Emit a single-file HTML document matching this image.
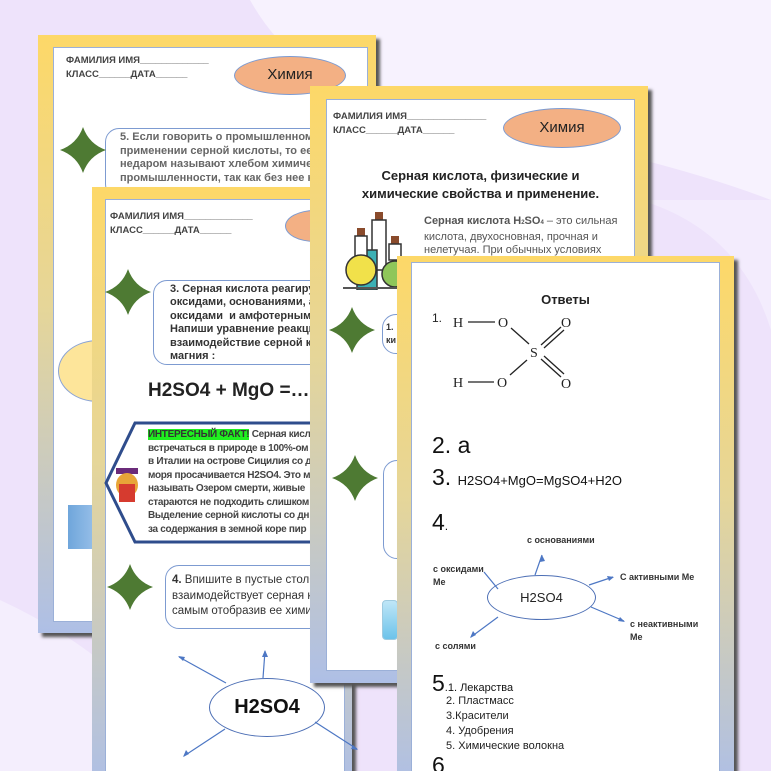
<!DOCTYPE html>
<html style="width:771px;height:771px;overflow:hidden"><head><meta charset="utf-8"><style>
*{margin:0;padding:0;box-sizing:border-box}
body{width:771px;height:771px;overflow:hidden;position:relative;background:#eee3fb;font-family:"Liberation Sans",sans-serif}
.abs{position:absolute}
.page{position:absolute;background:linear-gradient(#fdd868,#e6d698 45%,#aebfe6);box-shadow:4px 4px 3px #555}
.inner{position:absolute;background:#fff;border:1px solid #9bb0d8}
.t{position:absolute;white-space:nowrap;color:#444}
.hdr{font-size:9.5px;font-weight:bold;color:#444;line-height:14px}
.nar{font-family:"Liberation Sans Narrow","Liberation Sans",sans-serif}
.bub{position:absolute;background:#fff;border:1.5px solid #7d9bd1;border-radius:14px}
.ell{position:absolute;border-radius:50%;background:#f3b084;border:1.5px solid #7d9bd1;text-align:center;font-size:15px;color:#222}
</style></head><body>
<svg class="abs" style="left:0;top:0" width="771" height="771">
<path d="M250 0 Q300 90 420 115 Q640 150 771 200 V0 Z" fill="#f7f2fe"/>
<path d="M640 200 Q740 230 771 330 V200Z" fill="#f3ecfd"/>
<path d="M0 600 Q130 660 200 771 H0Z" fill="#f4eefd"/>
</svg>

<!-- Page A -->
<div class="page" style="left:38px;top:35px;width:338px;height:598px">
 <div class="inner" style="left:15px;top:12px;width:315px;height:575px"></div>
</div>
<div class="t hdr" style="left:66px;top:54px">ФАМИЛИЯ ИМЯ_____________<br>КЛАСС______ДАТА______</div>
<div class="ell" style="left:234px;top:56px;width:112px;height:39px;line-height:36px">Химия</div>
<div class="bub" style="left:105px;top:128px;width:260px;height:70px"></div>
<div class="t" style="left:120px;top:131px;font-size:11px;line-height:13.5px;color:#666;font-weight:bold">5. Если говорить о промышленном<br>применении серной кислоты, то ее<br>недаром называют хлебом химической<br>промышленности, так как без нее не</div>
<div class="abs" style="left:58px;top:340px;width:80px;height:62px;border-radius:50%;background:#fde59a;border:1px solid #8aa3d4"></div>
<div class="abs" style="left:68px;top:505px;width:30px;height:44px;background:linear-gradient(90deg,#6fa6db,#9cc2ea)"></div>

<!-- Page B -->
<div class="page" style="left:92px;top:187px;width:260px;height:600px">
 <div class="inner" style="left:13px;top:12px;width:240px;height:590px"></div>
</div>
<div class="t hdr" style="left:110px;top:210px">ФАМИЛИЯ ИМЯ_____________<br>КЛАСС______ДАТА______</div>
<div class="ell" style="left:285px;top:210px;width:60px;height:32px"></div>
<div class="bub" style="left:153px;top:280px;width:200px;height:85px"></div>
<div class="t" style="left:170px;top:283px;font-size:11px;line-height:13.4px;color:#333;font-weight:bold">3. Серная кислота реагирует с<br>оксидами, основаниями, амфотерными<br>оксидами &nbsp;и амфотерными<br>Напиши уравнение реакции<br>взаимодействие серной кислоты<br>магния :</div>
<div class="t" style="left:148px;top:380px;font-size:19px;font-weight:bold;color:#222">H2SO4 + MgO =…….</div>
<svg class="abs" style="left:104px;top:421px" width="220" height="125"><path d="M31 2 H215 V121 H31 L2 62 Z" fill="#fff" stroke="#2f4d8c" stroke-width="3"/></svg>
<div class="t" style="left:148px;top:428px;font-size:10px;line-height:13.5px;color:#444;font-weight:bold;letter-spacing:-0.3px"><span style="background:#1ff01f;color:#333">ИНТЕРЕСНЫЙ ФАКТ!</span> Серная кислота<br>встречаться в природе в 100%-ом<br>в Италии на острове Сицилия со д<br>моря просачивается H2SO4. Это м<br>называть Озером смерти, живые<br>стараются не подходить слишком<br>Выделение серной кислоты со дн<br>за содержания в земной коре пир</div>
<div class="abs" style="left:114px;top:468px;width:26px;height:36px">
 <div class="abs" style="left:2px;top:0;width:22px;height:6px;background:#6b2b7a"></div>
 <div class="abs" style="left:2px;top:5px;width:22px;height:24px;border-radius:50%;background:#e8a538"></div>
 <div class="abs" style="left:5px;top:16px;width:16px;height:18px;background:#d63b2f"></div>
</div>
<div class="bub" style="left:165px;top:565px;width:190px;height:64px"></div>
<div class="t" style="left:172px;top:573px;font-size:11.5px;line-height:15.5px;color:#333"><b>4.</b> Впишите в пустые столбцы<br>взаимодействует серная кислота<br>самым отобразив ее химические</div>
<div class="abs" style="left:209px;top:678px;width:116px;height:59px;border-radius:50%;border:1.5px solid #4d6fb5;background:#fff;text-align:center;line-height:56px;font-size:20px;font-weight:bold;color:#111">H2SO4</div>
<svg class="abs" style="left:0;top:0" width="400" height="771"><g stroke="#4d77c4" stroke-width="1.2" fill="#4d77c4">
<line x1="226" y1="683" x2="179" y2="657"/><line x1="263" y1="678" x2="265" y2="651"/><line x1="225" y1="729" x2="184" y2="756"/><line x1="315" y1="722" x2="357" y2="749"/>
<polygon points="178,656 185,657 183,661" stroke="none"/><polygon points="265,650 262,657 268,657" stroke="none"/><polygon points="183,757 186,750 189,754" stroke="none"/><polygon points="358,750 351,749 353,745" stroke="none"/></g></svg>

<!-- Page C -->
<div class="page" style="left:310px;top:86px;width:338px;height:597px">
 <div class="inner" style="left:16px;top:13px;width:309px;height:572px"></div>
</div>
<div class="t hdr" style="left:333px;top:110px">ФАМИЛИЯ ИМЯ_______________<br>КЛАСС______ДАТА______</div>
<div class="ell" style="left:503px;top:108px;width:118px;height:40px;line-height:37px">Химия</div>
<div class="t" style="left:326px;top:167px;width:309px;text-align:center;font-size:13px;line-height:18px;font-weight:bold;color:#222">Серная кислота, физические и<br>химические свойства и применение.</div>
<svg class="abs" style="left:343px;top:210px" width="70" height="80">
<rect x="32" y="2" width="8" height="8" fill="#8a4b2c"/><rect x="29" y="10" width="14" height="50" fill="#fff" stroke="#333" stroke-width="1.5"/>
<rect x="14" y="40" width="20" height="40" fill="#3bb0b5" stroke="#333" stroke-width="1.5"/>
<rect x="14" y="18" width="8" height="8" fill="#8a4b2c"/><rect x="12" y="26" width="12" height="20" fill="#fff" stroke="#333" stroke-width="1.5"/>
<circle cx="18" cy="60" r="15" fill="#f1e14a" stroke="#333" stroke-width="1.5"/>
<rect x="48" y="26" width="8" height="8" fill="#8a4b2c"/><rect x="46" y="34" width="12" height="16" fill="#fff" stroke="#333" stroke-width="1.5"/>
<circle cx="52" cy="64" r="13" fill="#8fc65a" stroke="#333" stroke-width="1.5"/>
<line x1="0" y1="78" x2="70" y2="78" stroke="#555" stroke-width="2"/></svg>
<div class="t" style="left:424px;top:215px;font-size:11px;line-height:13.5px;color:#555"><b>Серная кислота H<span style="font-size:6px">2</span>SO<span style="font-size:6px">4</span></b> – это сильная<br>кислота, двухосновная, прочная и<br>нелетучая. При обычных условиях</div>
<div class="bub" style="left:382px;top:314px;width:40px;height:40px"></div>
<div class="t" style="left:386px;top:321px;font-size:9px;line-height:13px;font-weight:bold;color:#333">1.<br>ки</div>
<div class="bub" style="left:383px;top:460px;width:30px;height:99px"></div>
<div class="abs" style="left:382px;top:600px;width:16px;height:40px;border-radius:4px;background:linear-gradient(#bfe6f7,#6cc3ea);border:1px solid #9fcbe0"></div>

<!-- Page D -->
<div class="page" style="left:397px;top:256px;width:337px;height:530px">
 <div class="inner" style="left:14px;top:6px;width:309px;height:530px"></div>
</div>
<div class="t" style="left:411px;top:292px;width:309px;text-align:center;font-size:13px;font-weight:bold;color:#222">Ответы</div>
<div class="t" style="left:432px;top:311px;font-size:12px;color:#222">1.</div>
<svg class="abs" style="left:440px;top:305px" width="150" height="95" font-family="Liberation Serif" font-size="14" fill="#222">
<text x="13" y="22">H</text><text x="58" y="22">O</text><text x="121" y="22">O</text>
<text x="90" y="52">S</text>
<text x="13" y="82">H</text><text x="57" y="82">O</text><text x="121" y="83">O</text>
<g stroke="#222" stroke-width="1.3">
<line x1="28" y1="17" x2="55" y2="17"/><line x1="28" y1="77" x2="54" y2="77"/>
<line x1="71" y1="23" x2="89" y2="39"/><line x1="70" y1="70" x2="87" y2="55"/>
<line x1="101" y1="40" x2="121" y2="22"/><line x1="104" y1="43" x2="124" y2="25"/>
<line x1="101" y1="54" x2="121" y2="72"/><line x1="104" y1="51" x2="124" y2="69"/></g></svg>
<div class="t" style="left:432px;top:432px;font-size:23px;color:#111">2. а</div>
<div class="t" style="left:432px;top:464px;font-size:23px;color:#111">3. <span style="font-size:13px">H2SO4+MgO=MgSO4+H2O</span></div>
<div class="t" style="left:432px;top:509px;font-size:23px;color:#111">4<span style="font-size:12px">.</span></div>
<div class="abs" style="left:487px;top:575px;width:109px;height:45px;border-radius:50%;border:1.3px solid #4d6fb5;text-align:center;line-height:43px;font-size:13px;color:#222">H2SO4</div>
<div class="t" style="left:527px;top:535px;font-size:9px;font-weight:bold;color:#333">с основаниями</div>
<div class="t" style="left:433px;top:563px;font-size:9px;font-weight:bold;color:#333;line-height:13px">с оксидами<br>Ме</div>
<div class="t" style="left:620px;top:572px;font-size:9px;font-weight:bold;color:#333">С активными Ме</div>
<div class="t" style="left:630px;top:618px;font-size:9px;font-weight:bold;color:#333;line-height:13px">с неактивными<br>Ме</div>
<div class="t" style="left:435px;top:641px;font-size:9px;font-weight:bold;color:#333">с солями</div>
<svg class="abs" style="left:400px;top:530px" width="340" height="130"><g stroke="#4d77c4" stroke-width="1.2">
<line x1="135" y1="45" x2="142" y2="25"/><line x1="98" y1="59" x2="84" y2="42"/><line x1="189" y1="55" x2="213" y2="47"/><line x1="191" y1="77" x2="224" y2="91"/><line x1="98" y1="87" x2="71" y2="107"/></g>
<g fill="#4d77c4"><polygon points="142,25 140,32 145,31"/><polygon points="214,47 207,46 209,51"/><polygon points="225,92 218,91 220,87"/><polygon points="70,108 73,101 76,105"/></g></svg>
<div class="t" style="left:432px;top:670px;font-size:23px;color:#111">5<span style="font-size:11px">.1. Лекарства</span></div>
<div class="t" style="left:446px;top:694px;font-size:11px;line-height:15px;color:#222">2. Пластмасс<br>3.Красители<br>4. Удобрения<br>5. Химические волокна</div>
<div class="t" style="left:432px;top:752px;font-size:23px;color:#111">6</div>

<!-- stars -->
<svg class="abs" style="left:0;top:0" width="771" height="771" fill="#4e7a33">
<defs><path id="st" d="M0 -23 Q6 -6 23 0 Q6 6 0 23 Q-6 6 -23 0 Q-6 -6 0 -23Z"/></defs>
<use href="#st" transform="translate(83,150)"/>
<use href="#st" transform="translate(128,292)"/>
<use href="#st" transform="translate(130,587)"/>
<use href="#st" transform="translate(352,330)"/>
<use href="#st" transform="translate(355,478)"/>
</svg>
</body></html>
